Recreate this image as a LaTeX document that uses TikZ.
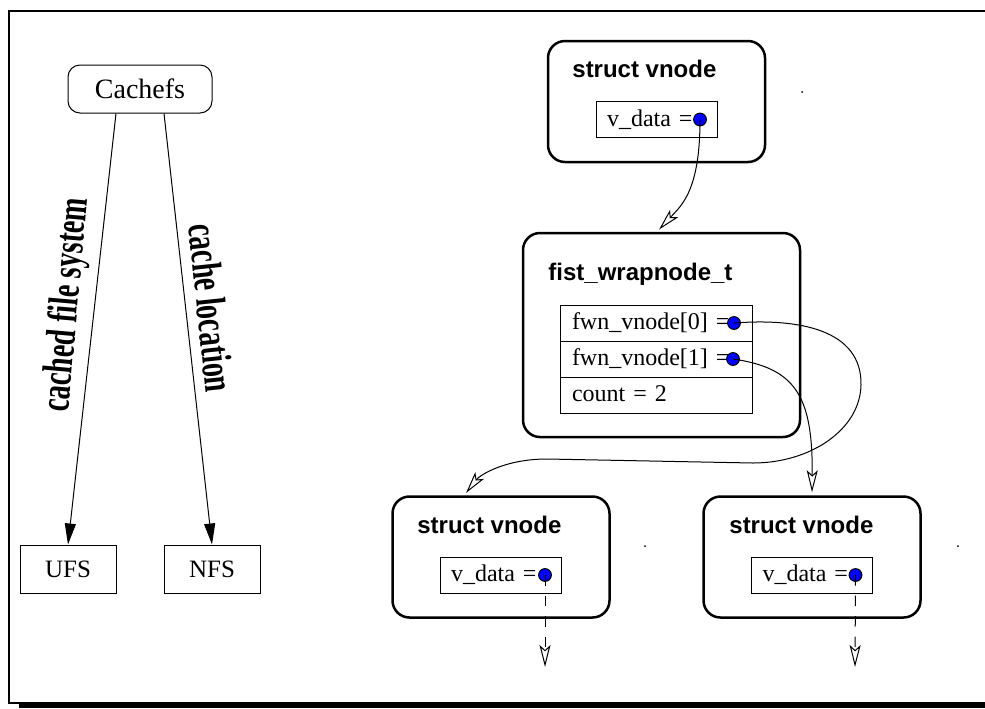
\documentclass[tikz,border=0pt]{standalone}
\usepackage{fontspec}
\usepackage{graphicx}
\setmainfont{Liberation Serif}
\setsansfont{Liberation Sans}
\usetikzlibrary{arrows.meta,positioning}

\begin{document}
\begin{tikzpicture}[x=0.5pt,y=-0.5pt,
    vbox/.style={draw, rounded corners=8.5pt, line width=1.25pt, minimum width=108.5pt, minimum height=60.5pt},
    hdr/.style={anchor=base west, inner sep=0pt, font=\fontsize{12}{14}\selectfont\sffamily\bfseries},
    rec/.style={draw, line width=0.5pt, outer sep=0pt, minimum height=18pt, inner xsep=5.5pt, text height=8.2pt, text depth=1.5pt, align=left, font=\fontsize{12}{14}\selectfont},
    ptrdot/.style={circle, draw, fill=blue, line width=0.5pt, minimum size=6.4pt, inner sep=0pt},
    ptr/.style={line width=0.5pt, shorten >=1.5pt, -{Stealth[open, length=11pt, width=5.5pt, inset=2.5pt]}},
    fsbox/.style={draw, line width=0.5pt, minimum width=48pt, minimum height=24pt, font=\fontsize{14}{16}\selectfont},
    lbl/.style={font=\fontsize{14}{16}\selectfont\bfseries, inner sep=0pt}]

    \useasboundingbox (0,0) rectangle (985,708);
    \draw[line width=1.4pt] (985,11) -- (9,11) -- (9,703) -- (985,703);
    \fill (19,703) rectangle (985,708);

    \node[draw, rounded corners=6pt, line width=0.5pt, minimum width=72pt, minimum height=24pt, font=\fontsize{14}{16}\selectfont] (cachefs) at (140,89) {Cachefs};
    \node[fsbox, font=\fontsize{12.5}{15}\selectfont] (ufs) at (68,569) {UFS};
    \node[fsbox, font=\fontsize{12.5}{15}\selectfont] (nfs) at (212,569) {NFS};
    \draw[line width=0.5pt, -{Triangle[length=10.5pt, width=5.5pt]}] ([xshift=-12pt]cachefs.south) -- (ufs.north);
    \draw[line width=0.5pt, -{Triangle[length=10.5pt, width=5.5pt]}] ([xshift=12pt]cachefs.south) -- (nfs.north);
    \node[lbl, rotate=85] (lblcached) at (67.5,305) {\scalebox{1}[1.5]{cached file system}};
    \node[lbl, rotate=-84] (lblloc) at (211.5,308) {\scalebox{1}[1.5]{cache location}};

    \node[vbox] (topv) at (656.5,101.5) {};
    \node[hdr] (topvt) at (572,77) {struct vnode};
    \node[rec, text width=49.5pt] (topvd) at (656.5,119.5) {v\_data =};
    \node[ptrdot] (topdot) at ([xshift=-8.5pt]topvd.east) {};

    \node[vbox, minimum width=138.5pt, minimum height=102pt] (fw) at (661.5,335) {};
    \node[hdr] (fwt) at (548,280) {fist\_wrapnode\_t};
    \node[rec, text width=84pt, inner xsep=6pt] (fw0) at (656,323) {fwn\_vnode[0] =};
    \node[rec, text width=84pt, inner xsep=6pt, below=0pt of fw0] (fw1) {fwn\_vnode[1] =};
    \node[rec, text width=84pt, inner xsep=6pt, below=0pt of fw1] (fwc) {count = 2};
    \node[ptrdot] (fwdot0) at ([xshift=-9pt]fw0.east) {};
    \node[ptrdot] (fwdot1) at ([xshift=-9.5pt]fw1.east) {};

    \node[vbox] (lv) at (501,557) {};
    \node[hdr] (lvt) at (417,533) {struct vnode};
    \node[rec, text width=49.5pt] (lvd) at (500.5,575) {v\_data =};
    \node[ptrdot] (lvdot) at ([xshift=-8pt]lvd.east) {};

    \node[vbox] (rv) at (812,557) {};
    \node[hdr] (rvt) at (729,533) {struct vnode};
    \node[rec, text width=49.5pt] (rvd) at (812,575) {v\_data =};
    \node[ptrdot] (rvdot) at ([xshift=-8.5pt]rvd.east) {};

    \coordinate (lvend) at (545,670);
    \coordinate (rvend) at (855,670);

    \draw[ptr] (topdot.center) .. controls (700,190) and (682,205) .. ([xshift=-2.25pt]fw.north);
    \draw[ptr] (fwdot0.center) .. controls (800,318) and (862,330) .. (861,385) .. controls (860,430) and (810,463) .. (753,463) -- (547,459) .. controls (505,459) and (480,475) .. ([xshift=36.5pt]lv.north west);
    \draw[ptr] (fwdot1.center) .. controls (795,368) and (813,395) .. (rv.north);
    \draw[ptr, dash pattern=on 5.25pt off 5pt] (lvdot.center) -- (lvend);
    \draw[ptr, dash pattern=on 5.25pt off 5pt] (rvdot.center) -- (rvend);

    \fill (802,92) circle (0.5pt);
    \fill (645,546) circle (0.5pt);
    \fill (958,546) circle (0.5pt);
\end{tikzpicture}
\end{document}
